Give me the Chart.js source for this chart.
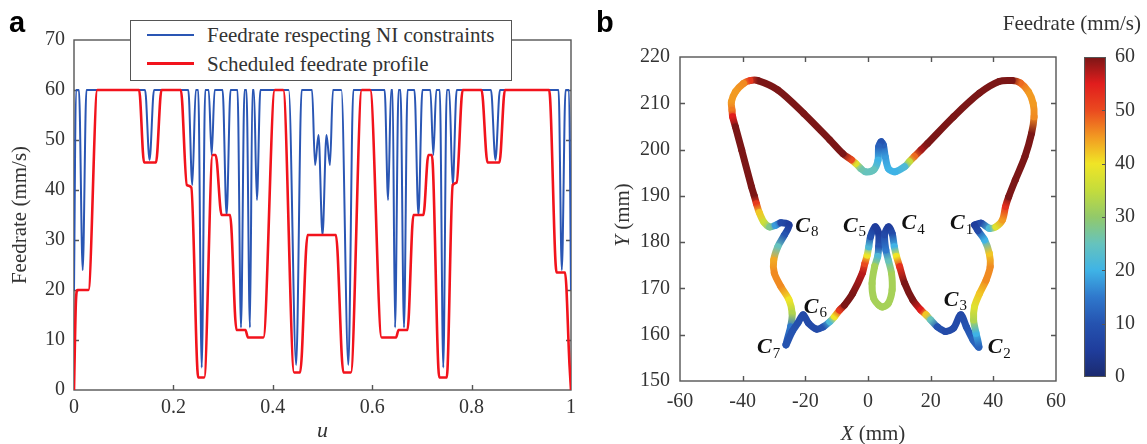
<!DOCTYPE html>
<html>
<head>
<meta charset="utf-8">
<script src="https://cdn.jsdelivr.net/npm/chart.js@4.4.1/dist/chart.umd.min.js"></script>
<style>
  body { margin: 0; background: #fff; }
  #wrap { position: relative; width: 1147px; height: 444px; overflow: hidden;
          font-family: "Liberation Serif", "Times New Roman", serif; color: #333; }
  canvas { position: absolute; top: 0; }
  .txt { position: absolute; white-space: nowrap; font-size: 21px; line-height: 21px; }
  .panel { position: absolute; font: bold 29px/29px "Liberation Sans", Arial, sans-serif; color: #000; }
  #legendBox { position: absolute; left: 130px; top: 20px; width: 380px; height: 59px;
               border: 1.5px solid #555; background: #fff; }
  .swatch { position: absolute; left: 147px; width: 47px; }
</style>
</head>
<body>
<div id="wrap">
  <canvas id="chartA" width="590" height="444" style="left:0"></canvas>
  <canvas id="chartB" width="475" height="444" style="left:600px"></canvas>
  <canvas id="chartC" width="72" height="444" style="left:1075px"></canvas>

  <div class="panel" style="left:9px;top:8px">a</div>
  <div class="panel" style="left:596px;top:8px">b</div>

  <div id="legendBox"></div>
  <div class="swatch" style="top:34px;height:2px;background:#2a56b4"></div>
  <div class="swatch" style="top:62px;height:3px;background:#f2131c"></div>
  <div class="txt" style="left:207px;top:25px">Feedrate respecting NI constraints</div>
  <div class="txt" style="left:207px;top:54px">Scheduled feedrate profile</div>

  <div class="txt" style="left:622px;top:215px;transform:translate(-50%,-50%) rotate(-90deg)"><i>Y</i> (mm)</div>
  <div class="txt" style="left:873px;top:423px;transform:translateX(-50%)"><i>X</i> (mm)</div>
  <div class="txt" style="right:6px;top:13px">Feedrate (mm/s)</div>
</div>

<script>
// ---- panel a: feedrate along the curve parameter u
const uBlue = [0, 0.004, 0.010, 0.0175, 0.025, 0.143, 0.152, 0.161, 0.230, 0.238, 0.245, 0.250, 0.257, 0.264,
  0.271, 0.277, 0.283, 0.299, 0.307, 0.315, 0.329, 0.336, 0.343, 0.347, 0.354, 0.359, 0.362, 0.368, 0.375,
  0.432, 0.447, 0.458, 0.479, 0.485, 0.492, 0.500, 0.508, 0.515, 0.521, 0.538, 0.552, 0.562, 0.625, 0.632,
  0.638, 0.641, 0.646, 0.653, 0.657, 0.664, 0.671, 0.685, 0.693, 0.701, 0.717, 0.723, 0.729, 0.736, 0.743,
  0.750, 0.755, 0.762, 0.770, 0.839, 0.848, 0.857, 0.975, 0.9815, 0.989, 0.996, 1.0];
const vBlue = [20, 60, 60, 24, 60, 60, 46, 60, 60, 41, 60, 60, 4.5, 60,
  60, 47, 60, 60, 35, 60, 60, 12.5, 60, 60, 12.5, 60, 60, 38, 60,
  60, 5, 60, 60, 45, 51, 31, 51, 45, 60, 60, 5, 60, 60, 38,
  60, 60, 12.5, 60, 60, 12.5, 60, 60, 35, 60, 60, 47, 60, 60, 4.5,
  60, 60, 41, 60, 60, 46, 60, 60, 24, 60, 60, 20];

const uRed = [0, 0.004, 0.007, 0.029, 0.047, 0.131, 0.141, 0.165, 0.176, 0.215, 0.227, 0.236, 0.250, 0.262,
  0.279, 0.285, 0.297, 0.314, 0.327, 0.345, 0.350, 0.381, 0.404, 0.421, 0.443, 0.455, 0.470, 0.527, 0.542,
  0.557, 0.579, 0.596, 0.619, 0.648, 0.653, 0.671, 0.683, 0.703, 0.713, 0.720, 0.735, 0.750, 0.762, 0.770,
  0.782, 0.820, 0.832, 0.856, 0.867, 0.956, 0.971, 0.988, 0.997, 1.0];
const vRed = [0, 18, 20, 20, 60, 60, 45.5, 45.5, 60, 60, 41, 40.5, 2.5, 2.5,
  47, 47, 35, 35, 12, 12, 10.5, 10.5, 60, 60, 3.5, 3.5, 31, 31, 3.5,
  3.5, 60, 60, 10.5, 10.5, 12, 12, 35, 35, 47, 47, 2.5, 2.5, 41, 41.5,
  60, 60, 45.5, 45.5, 60, 60, 23.5, 23.5, 5, 0];

const uTicks = [0, 0.2, 0.4, 0.6, 0.8, 1];
const feedTicks = [0, 10, 20, 30, 40, 50, 60, 70];

// ---- panel b: butterfly tool path coloured by feedrate
const pathX = [34.0, 36.1, 38.7, 40.8, 42.9, 43.9, 44.9, 47.0, 50.1, 52.2, 53.0, 52.7, 51.2, 48.6, 46.0, 41.8,
  35.6, 27.3, 19.0, 16.9, 14.8, 13.2, 11.7, 8.6, 6.5, 5.5, 4.9, 4.2, 3.4, 3.2, 1.8, -0.8, -2.3, -3.9, -5.3,
  -8.0, -12.2, -20.5, -28.8, -35.1, -37.7, -39.7, -42.3, -43.6, -43.4, -43.2, -42.3, -40.3, -37.2, -36.3,
  -35.6, -34.7, -33.2, -31.4, -29.6, -27.8, -25.2, -26.7, -28.8, -30.1, -29.9, -27.8, -25.2, -24.2, -24.7,
  -26.2, -24.2, -22.4, -20.7, -19.0, -16.4, -14.3, -12.2, -10.7, -9.1, -7.5, -4.9, -1.8, -1.0, -0.25, 0.25,
  0.8, 2.3, 3.4, 3.4, 3.1, 2.1, 1.3, 1.8, 3.4, 4.6, 6.5, 7.7, 7.5, 6.5, 5.7, 5.3, 6.5, 7.7, 8.4, 9.1, 10.1,
  11.7, 14.3, 16.9, 18.5, 20.0, 22.1, 24.7, 27.3, 29.6, 31.4, 33.5, 35.4, 34.5, 33.7, 34.0, 35.6, 37.7, 39.0,
  38.7, 37.2, 35.1, 34.0];
const pathY = [183.7, 184.1, 183.0, 183.3, 184.8, 187.7, 189.8, 193.4, 198.5, 203.5, 207.1, 210.0, 212.5, 214.4,
  214.9, 214.7, 212.2, 207.1, 201.3, 199.9, 198.5, 197.4, 196.3, 195.2, 195.9, 198.5, 201.0, 201.7, 200.6, 197.7,
  195.6, 195.2, 195.9, 197.0, 197.8, 199.1, 202.1, 207.8, 212.9, 214.9, 214.9, 214.3, 212.5, 210.3, 208.5, 207.1,
  204.9, 199.9, 192.0, 190.0, 188.3, 186.4, 184.3, 183.3, 183.6, 184.2, 183.7, 181.5, 179.0, 176.1, 173.3, 170.4,
  167.5, 164.6, 161.7, 157.8, 160.7, 162.5, 164.3, 162.5, 161.2, 161.7, 162.8, 163.9, 165.3, 166.4, 168.9, 173.3,
  175.4, 177.2, 179.0, 181.2, 183.3, 181.9, 179.0, 176.9, 174.7, 171.1, 167.9, 166.4, 166.0, 166.8, 169.7, 173.3,
  176.1, 178.3, 181.6, 183.3, 181.9, 179.0, 176.9, 174.7, 171.1, 167.5, 165.3, 164.3, 163.2, 161.7, 160.7, 161.4,
  164.3, 161.7, 158.9, 157.3, 160.3, 163.2, 166.1, 168.9, 171.8, 174.7, 177.6, 180.5, 182.5, 183.7];
const pathFeed = [5, 8, 22, 38, 45, 53, 60, 60, 60, 60, 46, 45, 45, 48, 60, 60,
  60, 60, 60, 58, 48, 35, 22, 20, 20, 18, 12, 10, 12, 20, 25, 25, 26, 38, 50,
  60, 60, 60, 60, 60, 52, 46, 45, 45, 47, 55, 60, 60, 60, 60,
  52, 42, 36, 28, 18, 8, 5, 10, 25, 44, 46, 46, 40, 33, 15,
  10, 10, 9, 8, 8, 8, 10, 22, 40, 52, 60, 60, 57, 50, 40, 22,
  10, 5, 5, 10, 22, 32, 32, 32, 32, 32, 32, 32, 32, 25, 15, 8, 5, 8, 20, 40, 53,
  60, 60, 55, 42, 25, 10, 8, 8, 8, 10, 12, 12, 20, 33, 38, 42, 46, 46,
  42, 20, 8, 5];

const xTicksB = [-60, -40, -20, 0, 20, 40, 60];
const yTicksB = [150, 160, 170, 180, 190, 200, 210, 220];
const barTicks = [0, 10, 20, 30, 40, 50, 60];

// corner labels C1..C8 (anchor of the letter, in mm)
const cornerNames = ['1', '2', '3', '4', '5', '6', '7', '8'];
const cornerX = [26.2, 38.2, 24.2, 10.7, -8.0, -20.5, -35.4, -23.2];
const cornerY = [184.0, 157.2, 167.4, 184.0, 183.4, 165.9, 157.2, 183.4];

// jet-like colour map used for the path and the colour bar
const jetStops = [[0, '#1b2a6e'], [5, '#1f3d9c'], [10, '#2553b0'], [15, '#2f78cc'], [20, '#3fb3e6'],
  [25, '#66c3bd'], [30, '#92c96a'], [35, '#c4dc3c'], [40, '#f0e526'], [45, '#f29a22'],
  [50, '#ea4a1f'], [55, '#e11d1d'], [60, '#7b1616']];
const jetRgb = jetStops.map(s => [s[0], parseInt(s[1].slice(1, 3), 16), parseInt(s[1].slice(3, 5), 16), parseInt(s[1].slice(5, 7), 16)]);
function jet(v) {
  if (v <= jetRgb[0][0]) return `rgb(${jetRgb[0][1]},${jetRgb[0][2]},${jetRgb[0][3]})`;
  for (let i = 1; i < jetRgb.length; i++) {
    const a = jetRgb[i - 1], b = jetRgb[i];
    if (v <= b[0]) {
      const t = (v - a[0]) / (b[0] - a[0]);
      return `rgb(${Math.round(a[1] + t * (b[1] - a[1]))},${Math.round(a[2] + t * (b[2] - a[2]))},${Math.round(a[3] + t * (b[3] - a[3]))})`;
    }
  }
  const l = jetRgb[jetRgb.length - 1];
  return `rgb(${l[1]},${l[2]},${l[3]})`;
}

const serif = "'Liberation Serif', 'Times New Roman', serif";
const axisGrey = '#555';
const labelGrey = '#333';

Chart.defaults.font.family = serif;
Chart.defaults.font.style = 'normal';
Chart.defaults.font.weight = 'normal';
Chart.defaults.font.size = 20;
Chart.defaults.color = labelGrey;

// box around the plot with inward tick marks on all four sides
const boxTicks = {
  id: 'boxTicks',
  beforeDatasetsDraw(chart) {
    const { ctx, chartArea: a, scales } = chart;
    const L = 5;
    ctx.save();
    ctx.strokeStyle = axisGrey;
    ctx.lineWidth = 1.4;
    ctx.strokeRect(a.left, a.top, a.right - a.left, a.bottom - a.top);
    ctx.beginPath();
    scales.x.ticks.forEach(t => {
      const p = Math.round(scales.x.getPixelForValue(t.value)) + 0.5;
      if (p <= a.left + 1 || p >= a.right - 1) return;
      ctx.moveTo(p, a.bottom); ctx.lineTo(p, a.bottom - L);
      ctx.moveTo(p, a.top); ctx.lineTo(p, a.top + L);
    });
    scales.y.ticks.forEach(t => {
      const p = Math.round(scales.y.getPixelForValue(t.value)) + 0.5;
      if (p <= a.top + 1 || p >= a.bottom - 1) return;
      ctx.moveTo(a.left, p); ctx.lineTo(a.left + L, p);
      ctx.moveTo(a.right, p); ctx.lineTo(a.right - L, p);
    });
    ctx.stroke();
    ctx.restore();
  }
};

function tickAxis(ticks, pad, extra) {
  return Object.assign({
    type: 'linear',
    min: ticks[0],
    max: ticks[ticks.length - 1],
    afterBuildTicks: s => { s.ticks = ticks.map(v => ({ value: v })); },
    grid: { display: false, drawTicks: false },
    border: { display: false },
    ticks: { color: labelGrey, font: { family: serif, size: 20, style: 'normal', weight: 'normal' },
             autoSkip: false, maxRotation: 0, padding: pad, callback: v => String(v) }
  }, extra);
}

// ---- chart a
new Chart(document.getElementById('chartA'), {
  type: 'scatter',
  data: {
    datasets: [
      { label: 'Feedrate respecting NI constraints',
        data: uBlue.map((u, i) => ({ x: u, y: vBlue[i] })),
        showLine: true, borderColor: '#2a56b4', borderWidth: 2, pointRadius: 0, order: 2 },
      { label: 'Scheduled feedrate profile',
        data: uRed.map((u, i) => ({ x: u, y: vRed[i] })),
        showLine: true, borderColor: '#f2131c', borderWidth: 2.6, pointRadius: 0, order: 1 }
    ]
  },
  options: {
    responsive: false,
    animation: false,
    events: [],
    layout: { padding: { top: 40, right: 19, left: 0, bottom: 0 } },
    plugins: { legend: { display: false }, tooltip: { enabled: false } },
    elements: { line: { cubicInterpolationMode: 'monotone', borderJoinStyle: 'round' } },
    scales: {
      x: tickAxis(uTicks, 6, {
        afterFit: s => { s.height = 54; },
        title: { display: true, text: 'u', color: labelGrey,
                 font: { family: serif, size: 22, style: 'italic' }, padding: { top: 0, bottom: 0 } }
      }),
      y: tickAxis(feedTicks, 9, {
        afterFit: s => { s.width = 74; },
        title: { display: true, text: 'Feedrate (mm/s)', color: labelGrey,
                 font: { family: serif, size: 21, style: 'normal', weight: 'normal' }, padding: { top: 8, bottom: 0 } }
      })
    }
  },
  plugins: [boxTicks]
});

// ---- chart b
const canvasB = document.getElementById('chartB');
const ctxB = canvasB.getContext('2d');

const cornerText = {
  id: 'cornerText',
  afterDatasetsDraw(chart) {
    const { ctx, scales } = chart;
    ctx.save();
    ctx.fillStyle = '#111';
    ctx.textBaseline = 'middle';
    ctx.textAlign = 'left';
    cornerNames.forEach((n, i) => {
      const px = scales.x.getPixelForValue(cornerX[i]);
      const py = scales.y.getPixelForValue(cornerY[i]);
      ctx.font = `italic bold 22px ${serif}`;
      ctx.fillText('C', px, py);
      const w = ctx.measureText('C').width;
      ctx.font = `15px ${serif}`;
      ctx.fillText(n, px + w + 1, py + 6);
    });
    ctx.restore();
  }
};

new Chart(canvasB, {
  type: 'scatter',
  data: {
    datasets: [{
      data: pathX.map((x, i) => ({ x: x, y: pathY[i] })),
      showLine: true,
      borderWidth: 7,
      borderColor: '#7b1616',
      borderCapStyle: 'round',
      borderJoinStyle: 'round',
      pointRadius: 0,
      tension: 0.3,
      segment: {
        borderColor: c => {
          const g = ctxB.createLinearGradient(c.p0.x, c.p0.y, c.p1.x, c.p1.y);
          g.addColorStop(0, jet(pathFeed[c.p0DataIndex]));
          g.addColorStop(1, jet(pathFeed[c.p1DataIndex]));
          return g;
        }
      }
    }]
  },
  options: {
    responsive: false,
    animation: false,
    events: [],
    layout: { padding: { top: 57, right: 10, left: 0, bottom: 0 } },
    plugins: { legend: { display: false }, tooltip: { enabled: false } },
    scales: {
      x: tickAxis(xTicksB, 9, { afterFit: s => { s.height = 63; } }),
      y: tickAxis(yTicksB, 10, { afterFit: s => { s.width = 80; } })
    }
  },
  plugins: [boxTicks, cornerText]
});

// ---- colour bar
const barTickMarks = {
  id: 'barTickMarks',
  afterDatasetsDraw(chart) {
    const { ctx, chartArea: a, scales } = chart;
    ctx.save();
    ctx.strokeStyle = axisGrey;
    ctx.lineWidth = 1.2;
    ctx.beginPath();
    barTicks.forEach(v => {
      const p = Math.round(scales.y.getPixelForValue(v)) + 0.5;
      if (p <= a.top + 1 || p >= a.bottom - 1) return;
      ctx.moveTo(a.right, p); ctx.lineTo(a.right - 4, p);
    });
    ctx.stroke();
    ctx.restore();
  }
};

new Chart(document.getElementById('chartC'), {
  type: 'bar',
  data: {
    labels: [''],
    datasets: [{
      data: [[barTicks[0], barTicks[barTicks.length - 1]]],
      borderWidth: 1.4,
      borderColor: axisGrey,
      borderSkipped: false,
      barPercentage: 1,
      categoryPercentage: 1,
      backgroundColor: c => {
        const ch = c.chart;
        if (!ch.chartArea) return '#888';
        const y = ch.scales.y;
        const g = ch.ctx.createLinearGradient(0, y.getPixelForValue(0), 0, y.getPixelForValue(60));
        jetStops.forEach(s => g.addColorStop(s[0] / 60, s[1]));
        return g;
      }
    }]
  },
  options: {
    responsive: false,
    animation: false,
    events: [],
    layout: { padding: { top: 57, right: 0, left: 9, bottom: 67 } },
    plugins: { legend: { display: false }, tooltip: { enabled: false } },
    scales: {
      x: { display: false },
      y: tickAxis(barTicks, 9, { position: 'right', afterFit: s => { s.width = 41; } })
    }
  },
  plugins: [barTickMarks]
});
</script>
</body>
</html>
